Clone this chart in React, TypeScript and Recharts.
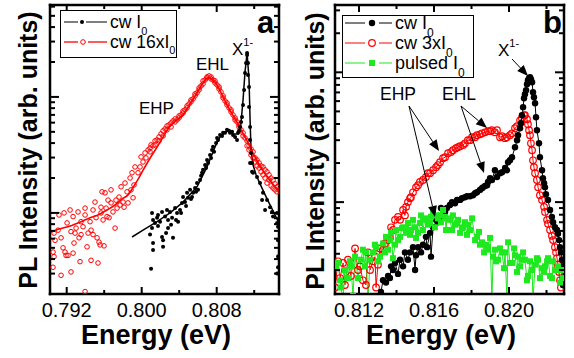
import React from 'react';
import { ComposedChart, Scatter, Line, XAxis, YAxis } from 'recharts';

const FONT = '"Liberation Sans", Arial, Helvetica, sans-serif';
const RED = '#ff0000';
const GREEN = '#1ee81e';

// ---- panel a : [energy (eV), PL intensity (arb. units)] ----
const cw16A: [number, number][] = [
  [0.79054, 34], [0.79065, 42], [0.79054, 46], [0.79076, 58], [0.79065, 67], [0.79108, 71], [0.79118, 96],
  [0.7914, 29], [0.7914, 61], [0.79161, 50], [0.79172, 100], [0.79182, 46], [0.79193, 43], [0.79204, 82],
  [0.79214, 43], [0.79236, 106], [0.79246, 31], [0.79246, 69], [0.79268, 93], [0.79268, 45], [0.79278, 55],
  [0.79289, 67], [0.793, 74], [0.79321, 102], [0.79332, 61], [0.79342, 38], [0.79353, 65], [0.79353, 84],
  [0.79374, 76], [0.79396, 110], [0.79396, 96], [0.79396, 21], [0.79417, 51], [0.79428, 67], [0.79449, 84],
  [0.7946, 71], [0.7946, 39], [0.79481, 106], [0.79481, 65], [0.79502, 124], [0.79513, 91], [0.79524, 61],
  [0.79534, 37], [0.79545, 56], [0.79556, 53], [0.79566, 112], [0.79566, 100], [0.79577, 152], [0.79588, 87],
  [0.79598, 52], [0.79609, 149], [0.7962, 110], [0.7963, 93], [0.79641, 129], [0.79652, 91], [0.79673, 158],
  [0.79673, 122], [0.79694, 102], [0.79716, 74], [0.79726, 129], [0.79737, 110], [0.79758, 137], [0.79769, 117],
  [0.7978, 168], [0.79801, 124], [0.79812, 112], [0.79822, 181], [0.79844, 152], [0.79854, 122], [0.79876, 200],
  [0.79886, 158], [0.79897, 222], [0.79908, 135], [0.79918, 174], [0.79929, 249], [0.79961, 222], [0.79982, 249],
  [0.79993, 304], [0.80014, 275], [0.80036, 329], [0.80046, 298], [0.80068, 349], [0.801, 386],
  [0.80089, 336], [0.80089, 363], [0.80121, 379], [0.80142, 418], [0.80142, 386], [0.80164, 426], [0.80185, 452],
  [0.80185, 418], [0.80206, 480], [0.80228, 510], [0.80228, 461], [0.80249, 530], [0.8027, 562], [0.8027, 520],
  [0.80292, 574], [0.80313, 597], [0.80313, 551], [0.80334, 621], [0.80356, 609], [0.80356, 646], [0.80377, 634],
  [0.80398, 659], [0.80398, 686], [0.8042, 700], [0.80441, 728], [0.80441, 757], [0.80462, 773], [0.80484, 804],
  [0.80484, 837], [0.80505, 870], [0.80526, 906], [0.80526, 942], [0.80548, 961], [0.80569, 1020], [0.80569, 1061],
  [0.8059, 1083], [0.80612, 1149], [0.80612, 1196], [0.80633, 1244], [0.80654, 1294], [0.80654, 1374],
  [0.80676, 1401], [0.80697, 1458], [0.80697, 1487], [0.80718, 1517], [0.8074, 1487], [0.8074, 1429],
  [0.80761, 1401], [0.80782, 1320], [0.80782, 1374], [0.80804, 1269], [0.80825, 1172], [0.80825, 1219],
  [0.80846, 1104], [0.80868, 1020], [0.80868, 980], [0.80889, 924], [0.8091, 853], [0.8091, 888], [0.80932, 804],
  [0.80953, 743], [0.80953, 773], [0.80974, 700], [0.80996, 659], [0.80996, 634], [0.81017, 609], [0.81038, 574],
  [0.81038, 551], [0.8106, 520], [0.81081, 490], [0.81081, 461], [0.81102, 443], [0.81124, 418], [0.81124, 379],
  [0.81145, 379], [0.81145, 349], [0.81166, 356], [0.81166, 316], [0.81188, 336], [0.81188, 298], [0.81209, 298],
  [0.81209, 275], [0.8123, 286], [0.8123, 254], [0.81252, 270], [0.81252, 244], [0.81273, 254], [0.81273, 226],
  [0.81294, 249], [0.81294, 213], [0.81316, 235], [0.81316, 200], [0.81337, 226], [0.81337, 181], [0.81358, 213],
  [0.81358, 192], [0.8138, 200], [0.8138, 171], [0.81401, 192], [0.81401, 164], [0.81422, 178], [0.81422, 158],
  [0.81444, 168], [0.81444, 152], [0.81465, 158],
];

const cwA: [number, number][] = [
  [0.801, 33], [0.8011, 100], [0.80121, 87], [0.8011, 74], [0.80089, 65], [0.80121, 55], [0.80121, 48],
  [0.80142, 82], [0.80164, 91], [0.80174, 96], [0.80174, 77], [0.80196, 84], [0.80217, 102], [0.80217, 62],
  [0.80228, 58], [0.80228, 51], [0.80249, 93], [0.8026, 67], [0.8027, 106], [0.80281, 87], [0.80281, 74],
  [0.80302, 102], [0.80313, 79], [0.80324, 91], [0.80334, 61], [0.80356, 110], [0.80366, 87], [0.80377, 100],
  [0.80388, 84], [0.80409, 106], [0.8042, 100], [0.8043, 122], [0.80441, 137], [0.80462, 124], [0.80473, 115],
  [0.80484, 149], [0.80494, 135], [0.80516, 158], [0.80526, 132], [0.80537, 137], [0.80548, 149], [0.80569, 164],
  [0.8058, 152], [0.8059, 181], [0.80601, 158], [0.80622, 192], [0.80633, 209], [0.80644, 222], [0.80654, 235],
  [0.80676, 259], [0.80686, 244], [0.80697, 286], [0.80708, 270], [0.80729, 316], [0.8074, 298], [0.8075, 349],
  [0.80761, 371], [0.80772, 336], [0.80793, 401], [0.80804, 443], [0.80814, 426], [0.80836, 470], [0.80857, 461],
  [0.80868, 490], [0.80889, 490], [0.8091, 520], [0.80932, 510], [0.80942, 490], [0.80964, 500], [0.80974, 470],
  [0.80996, 452], [0.81017, 426], [0.81028, 490], [0.81038, 510], [0.81049, 551], [0.8106, 609], [0.8107, 672],
  [0.81081, 853], [0.81092, 1149], [0.81102, 1610], [0.81113, 1963], [0.81124, 2301], [0.81124, 2395],
  [0.81134, 1963], [0.81134, 1548], [0.81145, 1219], [0.81145, 820], [0.81156, 551], [0.81156, 426],
  [0.81166, 329], [0.81177, 270], [0.81156, 270], [0.81177, 226], [0.81188, 222], [0.8123, 204], [0.81262, 181],
  [0.81284, 129], [0.81294, 149], [0.81316, 106], [0.81337, 129], [0.81369, 112], [0.8139, 102], [0.81401, 93],
  [0.81444, 100], [0.81444, 82], [0.81454, 76], [0.81454, 58], [0.81454, 42], [0.81454, 34], [0.81444, 30],
];

const cw16FitA: [number, number][] = [
  [0.79022, 68], [0.79129, 73], [0.79236, 77], [0.79353, 84], [0.79449, 91], [0.79534, 96], [0.7963, 106],
  [0.79716, 117], [0.79791, 132], [0.79854, 143], [0.79918, 171], [0.79982, 209], [0.80046, 259], [0.8011, 316],
  [0.80174, 380], [0.80228, 450], [0.80302, 562], [0.80377, 634], [0.80441, 700], [0.80516, 870], [0.8059, 1083],
  [0.80654, 1320], [0.80708, 1458], [0.80761, 1401], [0.80815, 1220], [0.80868, 1000], [0.80921, 820],
  [0.80996, 646], [0.81049, 541], [0.81102, 452], [0.81156, 371], [0.81209, 304], [0.81262, 254], [0.81316, 217],
  [0.81369, 189], [0.81465, 155],
];

const cwFitA: [number, number][] = [
  [0.79897, 62], [0.80014, 71], [0.80164, 84], [0.80302, 100], [0.80441, 124], [0.8059, 168], [0.80697, 249],
  [0.80782, 371], [0.80836, 452], [0.8091, 510], [0.80974, 480], [0.81028, 480], [0.8106, 609], [0.81081, 942],
  [0.81102, 1642], [0.81124, 2395], [0.81145, 1401], [0.81156, 634], [0.81166, 349], [0.81188, 259],
  [0.8122, 213], [0.81262, 178], [0.81337, 132], [0.81401, 104], [0.81454, 85],
];

// ---- panel b ----
const cwB: [number, number][] = [
  [0.81259, 17.6], [0.81317, 20.3], [0.81328, 25], [0.81344, 24], [0.81355, 27], [0.81365, 26], [0.81371, 32],
  [0.81381, 30], [0.81392, 34], [0.81408, 28], [0.81419, 36], [0.81435, 32], [0.81445, 41], [0.81461, 36],
  [0.81472, 41], [0.81488, 45], [0.81499, 30], [0.81504, 39], [0.81515, 45], [0.81531, 41], [0.81541, 47],
  [0.81557, 54], [0.81563, 45], [0.81579, 58], [0.81584, 38], [0.81595, 64], [0.81611, 73], [0.81621, 70],
  [0.81632, 77], [0.81637, 90], [0.81648, 82], [0.81659, 84], [0.81669, 90], [0.81685, 95], [0.81696, 100],
  [0.81712, 98], [0.81723, 104], [0.81739, 104], [0.81749, 107], [0.81765, 109], [0.81776, 111], [0.81792, 111],
  [0.81808, 113], [0.81819, 117], [0.81829, 119], [0.81845, 124], [0.81856, 128], [0.81861, 130], [0.81872, 133],
  [0.81883, 135], [0.81888, 143], [0.81899, 153], [0.81909, 148], [0.81925, 176], [0.81936, 156], [0.81952, 167],
  [0.81963, 170], [0.81979, 183], [0.81989, 176], [0.81995, 203], [0.82005, 210], [0.82016, 222], [0.82032, 265],
  [0.82043, 300], [0.82048, 328], [0.82059, 371], [0.82064, 405], [0.82069, 467], [0.82075, 538], [0.8208, 631],
  [0.82085, 677], [0.82091, 727], [0.82096, 809], [0.82101, 868], [0.82107, 899], [0.82112, 915], [0.82117, 884],
  [0.82123, 838], [0.82128, 702], [0.82133, 642], [0.82139, 577], [0.82144, 451], [0.82149, 358], [0.8216, 284],
  [0.82165, 222], [0.82176, 176], [0.82181, 153], [0.82187, 140], [0.82192, 130], [0.82197, 115], [0.82208, 104],
  [0.82219, 87], [0.82229, 77], [0.82235, 70], [0.82245, 64], [0.82256, 61], [0.82261, 57], [0.82267, 51],
  [0.82272, 45], [0.82277, 41], [0.82283, 36], [0.82283, 32], [0.82288, 26], [0.82288, 23],
];

const cw3B: [number, number][] = [
  [0.81072, 22], [0.81088, 35], [0.81099, 26], [0.81115, 34], [0.81125, 23], [0.81141, 36], [0.81157, 27],
  [0.81179, 44], [0.81195, 30], [0.81205, 32], [0.81221, 25], [0.81237, 23], [0.81248, 41], [0.81259, 30],
  [0.81275, 35], [0.81285, 38], [0.81291, 22], [0.81301, 33], [0.81312, 44], [0.81328, 43], [0.81339, 48],
  [0.81355, 51], [0.81365, 53], [0.81371, 64], [0.81381, 61], [0.81392, 73], [0.81408, 77], [0.81419, 73],
  [0.81435, 87], [0.81445, 79], [0.81451, 92], [0.81461, 100], [0.81472, 107], [0.81477, 109], [0.81488, 119],
  [0.81504, 130], [0.81515, 135], [0.81525, 143], [0.81541, 148], [0.81557, 156], [0.81568, 167], [0.81579, 167],
  [0.81595, 176], [0.81611, 186], [0.81621, 193], [0.81632, 203], [0.81648, 218], [0.81659, 222], [0.81675, 238],
  [0.81691, 243], [0.81701, 251], [0.81717, 260], [0.81728, 265], [0.81739, 270], [0.81755, 275], [0.81765, 284],
  [0.81781, 300], [0.81792, 300], [0.81803, 316], [0.81819, 316], [0.81829, 328], [0.81845, 333], [0.81856, 339],
  [0.81872, 345], [0.81888, 352], [0.81899, 352], [0.81909, 358], [0.81925, 345], [0.81936, 358], [0.81952, 316],
  [0.81963, 322], [0.81979, 311], [0.81989, 316], [0.82005, 328], [0.82016, 339], [0.82032, 371], [0.82043, 384],
  [0.82059, 427], [0.82069, 443], [0.8208, 467], [0.82085, 467], [0.82096, 435], [0.82101, 398], [0.82107, 358],
  [0.82112, 328], [0.82117, 284], [0.82123, 251], [0.82128, 210], [0.82133, 186], [0.82139, 167], [0.82149, 148],
  [0.82155, 130], [0.82165, 113], [0.82176, 104], [0.82187, 92], [0.82192, 84], [0.82203, 73], [0.82208, 68],
  [0.82219, 61], [0.82229, 55], [0.82235, 51], [0.82245, 45], [0.82251, 41], [0.82256, 37], [0.82261, 33],
  [0.82267, 29], [0.82272, 25], [0.82277, 22],
];

const pulsedB: [number, number][] = [
  [0.81077, 31], [0.81088, 34], [0.81099, 25], [0.81104, 22], [0.81115, 17.6], [0.81125, 30], [0.81141, 26],
  [0.81152, 35], [0.81157, 32], [0.81168, 19], [0.81179, 38], [0.81195, 26], [0.81211, 36], [0.81221, 43],
  [0.81232, 32], [0.81237, 41], [0.81248, 17.6], [0.81259, 36], [0.81275, 41], [0.81285, 47], [0.81291, 45],
  [0.81301, 35], [0.81312, 38], [0.81328, 48], [0.81339, 41], [0.81344, 54], [0.81355, 43], [0.81365, 51],
  [0.81371, 58], [0.81381, 37], [0.81392, 47], [0.81397, 61], [0.81408, 51], [0.81419, 54], [0.81429, 63],
  [0.81435, 64], [0.81445, 63], [0.81451, 58], [0.81461, 69], [0.81472, 56], [0.81477, 61], [0.81488, 73],
  [0.81499, 64], [0.81504, 53], [0.81515, 58], [0.81525, 69], [0.81531, 79], [0.81541, 61], [0.81552, 75],
  [0.81557, 73], [0.81568, 67], [0.81579, 69], [0.81584, 77], [0.81595, 84], [0.81605, 64], [0.81611, 79],
  [0.81621, 75], [0.81632, 79], [0.81637, 70], [0.81648, 87], [0.81659, 77], [0.81664, 61], [0.81669, 75],
  [0.81685, 73], [0.81696, 61], [0.81701, 79], [0.81712, 67], [0.81723, 69], [0.81728, 73], [0.81739, 58],
  [0.81749, 63], [0.81755, 64], [0.81765, 70], [0.81776, 56], [0.81781, 67], [0.81792, 61], [0.81803, 75],
  [0.81819, 51], [0.81829, 54], [0.8184, 59], [0.81845, 47], [0.81856, 49], [0.81867, 41], [0.81877, 47],
  [0.81883, 43], [0.81888, 45], [0.81899, 53], [0.81909, 17.6], [0.81915, 38], [0.81925, 43], [0.81931, 35],
  [0.81941, 36], [0.81952, 44], [0.81963, 41], [0.81973, 31], [0.81979, 41], [0.81989, 17.6], [0.81995, 49],
  [0.82005, 34], [0.82016, 34], [0.82027, 44], [0.82032, 39], [0.82043, 29], [0.82048, 38], [0.82059, 32],
  [0.82069, 36], [0.82075, 41], [0.82085, 36], [0.82096, 25], [0.82101, 27], [0.82112, 35], [0.82123, 30],
  [0.82128, 17.6], [0.82139, 33], [0.82149, 37], [0.82155, 36], [0.82165, 26], [0.82176, 31], [0.82187, 29],
  [0.82192, 32], [0.82203, 35], [0.82208, 37], [0.82219, 27], [0.82229, 26], [0.82235, 35], [0.82245, 30],
  [0.82256, 30], [0.82261, 32], [0.82272, 24], [0.82283, 30], [0.82288, 26],
];

// ---- axes ----
const xTicksA = [0.792, 0.796, 0.8, 0.804, 0.808, 0.812];
const xLabelsA = [0.792, 0.8, 0.808];
const xTicksB = [0.812, 0.814, 0.816, 0.818, 0.82, 0.822];
const xLabelsB = [0.812, 0.816, 0.82];
const yTicksA = [30, 40, 50, 60, 70, 80, 90, 100, 200, 300, 400, 500, 600, 700, 800, 900, 1000, 2000, 3000, 4000, 5000, 6000];
const yTicksB = [30, 40, 50, 60, 70, 80, 90, 100, 200, 300, 400, 500, 600, 700, 800, 900, 1000, 2000, 3000];

const pts = (arr: [number, number][]) => arr.map(([x, y]) => ({ x, y }));
const near = (v: number, list: number[]) => list.some((l) => Math.abs(l - v) < 1e-7);
const isDecade = (v: number) => Math.abs(Math.log10(v) - Math.round(Math.log10(v))) < 1e-9;

const xTick = (labels: number[], top: boolean) => (p: any) => {
  const v = p.payload.value;
  const major = near(v, labels);
  const len = major ? 7 : 4;
  return (
    <g>
      <line x1={p.x} x2={p.x} y1={p.y} y2={top ? p.y + len : p.y - len} stroke="#000" strokeWidth={2} />
      {!top && major && (
        <text x={p.x} y={p.y + 23} textAnchor="middle" fontSize={20} fontFamily={FONT} fill="#000">
          {v.toFixed(3)}
        </text>
      )}
    </g>
  );
};

const yTick = (right: boolean) => (p: any) => {
  const len = isDecade(p.payload.value) ? 9 : 5;
  return <line x1={p.x} x2={right ? p.x - len : p.x + len} y1={p.y} y2={p.y} stroke="#000" strokeWidth={2} />;
};

const frame = { stroke: '#000', strokeWidth: 2.5, strokeLinecap: 'square' as const };

const openCircle = (r: number, sw: number) => (p: any) => (
  <circle key={p.index} cx={p.cx} cy={p.cy} r={r} fill="none" stroke={RED} strokeWidth={sw} />
);
const dotShape = (r: number) => (p: any) => <circle key={p.index} cx={p.cx} cy={p.cy} r={r} fill="#000" />;
const squareShape = (p: any) => <rect key={p.index} x={p.cx - 3} y={p.cy - 3} width={6} height={6} fill={GREEN} />;

// axis boxes are 1px thick: Recharts skips axes of zero size
const axes = (xDomain: number[], yDomain: number[], xTicks: number[], xLabels: number[], yTicks: number[]) => [
  <XAxis key="xb" xAxisId={0} dataKey="x" type="number" domain={xDomain} allowDataOverflow ticks={xTicks}
    interval={0} height={1} tickSize={0} tickMargin={0} tickLine={false} axisLine={frame} tick={xTick(xLabels, false)} />,
  <XAxis key="xt" xAxisId="t" orientation="top" dataKey="x" type="number" domain={xDomain} allowDataOverflow
    ticks={xTicks} interval={0} height={1} tickSize={0} tickMargin={0} tickLine={false} axisLine={frame}
    tick={xTick(xLabels, true)} />,
  <YAxis key="yl" yAxisId={0} dataKey="y" type="number" scale="log" domain={yDomain} allowDataOverflow ticks={yTicks}
    interval={0} width={1} tickSize={0} tickMargin={0} tickLine={false} axisLine={frame} tick={yTick(false)} />,
  <YAxis key="yr" yAxisId="r" orientation="right" dataKey="y" type="number" scale="log" domain={yDomain}
    allowDataOverflow ticks={yTicks} interval={0} width={1} tickSize={0} tickMargin={0} tickLine={false}
    axisLine={frame} tick={yTick(true)} />,
];

const Arrow = ({ x1, y1, x2, y2 }: { x1: number; y1: number; x2: number; y2: number }) => {
  const a = Math.atan2(y2 - y1, x2 - x1);
  const L = 11;
  const W = 4.5;
  const bx = x2 - L * Math.cos(a);
  const by = y2 - L * Math.sin(a);
  const s = Math.sin(a);
  const c = Math.cos(a);
  return (
    <g>
      <line x1={x1} y1={y1} x2={bx} y2={by} stroke="#000" strokeWidth={1} />
      <polygon points={`${x2},${y2} ${bx - W * s},${by + W * c} ${bx + W * s},${by - W * c}`} fill="#000" />
    </g>
  );
};

export default function App() {
  return (
    <div style={{ position: 'absolute', left: 0, top: 0, width: 574, height: 358, background: '#fff' }}>
      <div style={{ position: 'absolute', left: 0, top: 0 }}>
        <ComposedChart width={287} height={358} margin={{ top: 4, right: 7, bottom: 63, left: 49 }}>
          {axes([0.790219, 0.814645], [20, 6200], xTicksA, xLabelsA, yTicksA)}
          <Scatter data={pts(cw16A)} shape={openCircle(2.3, 1)} isAnimationActive={false} />
          <Line data={pts(cw16FitA)} dataKey="y" type="monotone" stroke={RED} strokeWidth={1.6} dot={false}
            activeDot={false} isAnimationActive={false} />
          <Scatter data={pts(cwA)} shape={dotShape(2)} isAnimationActive={false} />
          <Line data={pts(cwFitA)} dataKey="y" type="linear" stroke="#000" strokeWidth={1.5} dot={false}
            activeDot={false} isAnimationActive={false} />
        </ComposedChart>
      </div>
      <div style={{ position: 'absolute', left: 287, top: 0 }}>
        <ComposedChart width={287} height={358} margin={{ top: 4, right: 9, bottom: 63, left: 47 }}>
          {axes([0.81072, 0.822933], [19.6, 3300], xTicksB, xLabelsB, yTicksB)}
          <Line data={pts(cw3B)} dataKey="y" type="linear" stroke={RED} strokeWidth={1} dot={openCircle(3.3, 1.2)}
            activeDot={false} isAnimationActive={false} />
          <Line data={pts(cwB)} dataKey="y" type="linear" stroke="#000" strokeWidth={1} dot={dotShape(3.2)}
            activeDot={false} isAnimationActive={false} />
          <Line data={pts(pulsedB)} dataKey="y" type="linear" stroke={GREEN} strokeWidth={1} dot={squareShape}
            activeDot={false} isAnimationActive={false} />
        </ComposedChart>
      </div>
      <svg width={574} height={358} style={{ position: 'absolute', left: 0, top: 0, pointerEvents: 'none' }}
        fontFamily={FONT}>
        {/* axis titles */}
        <text x={156} y={344} fontSize={27} fontWeight="bold" textAnchor="middle">Energy (eV)</text>
        <text x={441} y={344} fontSize={27} fontWeight="bold" textAnchor="middle">Energy (eV)</text>
        <text transform="translate(36.5,150) rotate(-90)" fontSize={25} fontWeight="bold" textAnchor="middle">
          PL Intensity (arb. units)
        </text>
        <text transform="translate(323.5,151) rotate(-90)" fontSize={25} fontWeight="bold" textAnchor="middle">
          PL Intensity (arb. units)
        </text>
        {/* panel letters */}
        <text x={257} y={33} fontSize={31} fontWeight="bold">a</text>
        <text x={543} y={33} fontSize={31} fontWeight="bold">b</text>

        {/* legend a */}
        <rect x={60.5} y={10.5} width={116} height={47} fill="#fff" stroke="#000" strokeWidth={1} />
        <line x1={64} x2={78} y1={22} y2={22} stroke="#000" />
        <line x1={86} x2={107} y1={22} y2={22} stroke="#000" />
        <circle cx={82} cy={22} r={2} fill="#000" />
        <text x={110} y={28} fontSize={17.5}>cw I<tspan fontSize={11} dy={7}>0</tspan></text>
        <line x1={64} x2={78} y1={42} y2={42} stroke={RED} strokeWidth={1.3} />
        <line x1={88} x2={107} y1={42} y2={42} stroke={RED} strokeWidth={1.3} />
        <circle cx={83} cy={42} r={2.3} fill="none" stroke={RED} strokeWidth={1} />
        <text x={110} y={48} fontSize={17.5}>cw 16xI<tspan fontSize={11} dy={6}>0</tspan></text>

        {/* legend b */}
        <rect x={342.5} y={15.5} width={131} height={62} fill="#fff" stroke="#000" strokeWidth={1} />
        <line x1={345} x2={365} y1={23} y2={23} stroke="#000" />
        <line x1={379} x2={392} y1={23} y2={23} stroke="#000" />
        <circle cx={372} cy={23} r={3.2} fill="#000" />
        <text x={395} y={29} fontSize={18}>cw I<tspan fontSize={12} dy={8}>0</tspan></text>
        <line x1={345} x2={365} y1={43} y2={43} stroke={RED} />
        <line x1={379} x2={392} y1={43} y2={43} stroke={RED} />
        <circle cx={372} cy={43} r={3.3} fill="#fff" stroke={RED} strokeWidth={1.2} />
        <text x={395} y={49} fontSize={18}>cw 3xI<tspan fontSize={12} dy={8}>0</tspan></text>
        <line x1={345} x2={365} y1={63} y2={63} stroke={GREEN} />
        <line x1={379} x2={392} y1={63} y2={63} stroke={GREEN} />
        <rect x={369} y={60} width={6} height={6} fill={GREEN} />
        <text x={395} y={69} fontSize={18}>pulsed I<tspan fontSize={12} dy={8}>0</tspan></text>

        {/* annotations a */}
        <text x={139} y={114} fontSize={17}>EHP</text>
        <text x={196} y={70} fontSize={17}>EHL</text>
        <text x={232} y={55} fontSize={17}>X<tspan fontSize={11} dy={-9}>1-</tspan></text>

        {/* annotations b */}
        <text x={380} y={100} fontSize={17.5}>EHP</text>
        <text x={442} y={100} fontSize={17.5}>EHL</text>
        <text x={498} y={56} fontSize={17}>X<tspan fontSize={11} dy={-9}>1-</tspan></text>
        <Arrow x1={512} y1={59} x2={528} y2={76} />
        <Arrow x1={409} y1={106} x2={439} y2={151} />
        <Arrow x1={409} y1={106} x2={435} y2={217} />
        <Arrow x1={461} y1={106} x2={487} y2={128} />
        <Arrow x1={461} y1={106} x2={484} y2={173} />
      </svg>
    </div>
  );
}
